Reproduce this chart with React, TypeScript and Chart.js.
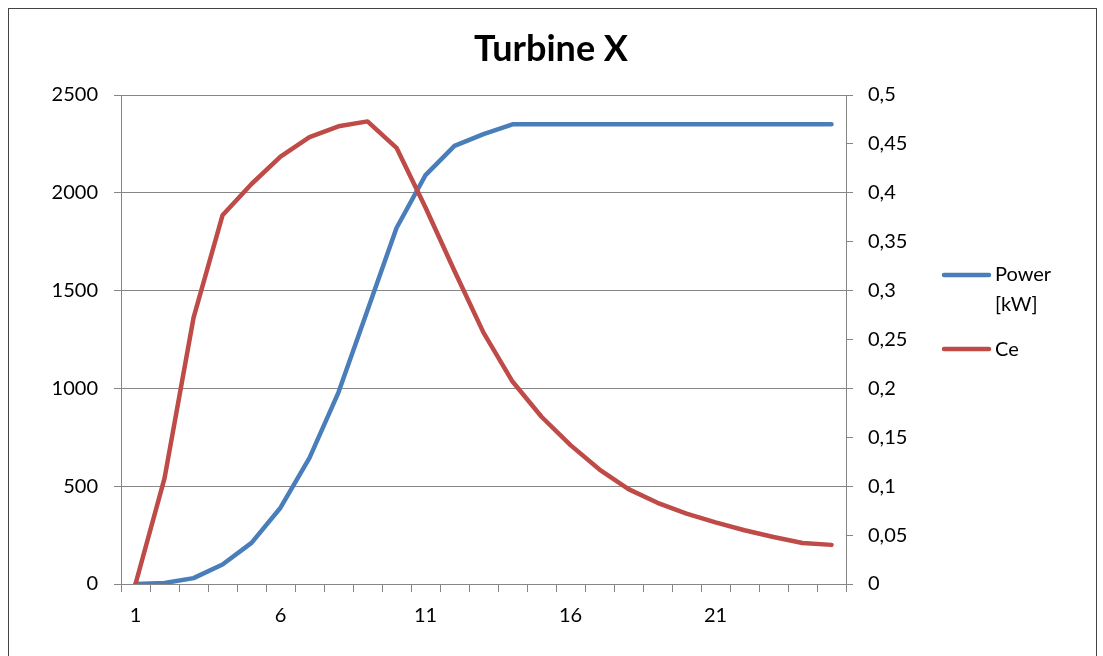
import React, { useEffect, useRef } from "react";
import { Chart, registerables } from "chart.js";

Chart.register(...registerables);

const categories = ["1", "2", "3", "4", "5", "6", "7", "8", "9", "10", "11", "12", "13", "14", "15", "16", "17", "18", "19", "20", "21", "22", "23", "24", "25"];
const powerValues = [0, 5, 30, 100, 210, 390, 645, 980, 1400, 1820, 2090, 2240, 2300, 2350, 2350, 2350, 2350, 2350, 2350, 2350, 2350, 2350, 2350, 2350, 2350];
const ceValues = [0, 0.108, 0.272, 0.377, 0.409, 0.437, 0.457, 0.468, 0.473, 0.446, 0.385, 0.32, 0.257, 0.207, 0.171, 0.142, 0.117, 0.097, 0.083, 0.072, 0.063, 0.055, 0.048, 0.042, 0.04];
const powerLabel = ["Power", "[kW]"];
const ceLabel = "Ce";
const titleText = "Turbine X";

const FONT = "Lato, 'Open Sans', sans-serif";
const BLUE = "#4A7EBB";
const RED = "#BE4B48";
const GRID = "#868686";

const decorPlugin = {
  id: "decor",
  afterDraw(chart: any) {
    const ctx = chart.ctx;
    ctx.save();
    // outer frame
    ctx.strokeStyle = "#444444";
    ctx.lineWidth = 1;
    ctx.strokeRect(8.5, 8.5, 1088, 700);
    // title
    ctx.fillStyle = "#000000";
    ctx.font = "bold 36px " + FONT;
    ctx.textAlign = "center";
    ctx.textBaseline = "alphabetic";
    ctx.fillText(titleText, 551, 61);
    // legend
    ctx.lineCap = "round";
    ctx.lineWidth = 4.5;
    ctx.strokeStyle = BLUE;
    ctx.beginPath();
    ctx.moveTo(944, 275);
    ctx.lineTo(989, 275);
    ctx.stroke();
    ctx.strokeStyle = RED;
    ctx.beginPath();
    ctx.moveTo(944, 349);
    ctx.lineTo(989, 349);
    ctx.stroke();
    ctx.font = "20px " + FONT;
    ctx.textAlign = "left";
    ctx.textBaseline = "middle";
    ctx.fillStyle = "#000000";
    ctx.fillText(powerLabel[0], 995, 275);
    ctx.fillText(powerLabel[1], 995, 305);
    ctx.fillText(ceLabel, 995, 350);
    ctx.restore();
  },
};

export default function App() {
  const ref = useRef<HTMLCanvasElement>(null);
  useEffect(() => {
    if (!ref.current) return;
    const chart = new Chart(ref.current, {
      type: "line",
      data: {
        labels: categories,
        datasets: [
          {
            label: "Power [kW]",
            data: powerValues,
            borderColor: BLUE,
            backgroundColor: BLUE,
            borderWidth: 4.5,
            pointRadius: 0,
            tension: 0,
            borderCapStyle: "round",
            borderJoinStyle: "round",
            yAxisID: "y",
            order: 2,
          },
          {
            label: ceLabel,
            data: ceValues,
            borderColor: RED,
            backgroundColor: RED,
            borderWidth: 4.5,
            pointRadius: 0,
            tension: 0,
            borderCapStyle: "round",
            borderJoinStyle: "round",
            yAxisID: "y1",
            order: 1,
          },
        ],
      },
      options: {
        responsive: false,
        animation: false,
        devicePixelRatio: 1,
        layout: { padding: { top: 95, right: 0, bottom: 0, left: 0 } },
        plugins: {
          legend: { display: false },
          title: { display: false },
          tooltip: { enabled: false },
        },
        scales: {
          x: {
            type: "category",
            offset: true,
            grid: {
              offset: true,
              drawOnChartArea: false,
              drawTicks: true,
              tickLength: 8,
              color: GRID,
              lineWidth: 1,
            },
            border: { display: true, color: GRID, width: 1 },
            ticks: {
              autoSkip: false,
              maxRotation: 0,
              padding: 12,
              color: "#000000",
              font: { family: FONT, size: 20 },
              callback: (_v: any, i: number) => (i % 5 === 0 ? categories[i] : ""),
            },
            afterFit: (s: any) => {
              s.height = 72;
            },
          },
          y: {
            position: "left",
            min: 0,
            max: 2500,
            grid: {
              drawOnChartArea: true,
              drawTicks: true,
              tickLength: 7,
              color: GRID,
              lineWidth: 1,
            },
            border: { display: true, color: GRID, width: 1 },
            ticks: {
              stepSize: 500,
              padding: 16,
              color: "#000000",
              font: { family: FONT, size: 20 },
              callback: (v: any) => String(v),
            },
            afterFit: (s: any) => {
              s.width = 121;
            },
          },
          y1: {
            position: "right",
            min: 0,
            max: 0.5,
            grid: {
              drawOnChartArea: false,
              drawTicks: true,
              tickLength: 7,
              color: GRID,
              lineWidth: 1,
            },
            border: { display: true, color: GRID, width: 1 },
            ticks: {
              stepSize: 0.05,
              padding: 15,
              color: "#000000",
              font: { family: FONT, size: 20 },
              callback: (v: any) => String(parseFloat(Number(v).toFixed(2))).replace(".", ","),
            },
            afterFit: (s: any) => {
              s.width = 257;
            },
          },
        },
      },
      plugins: [decorPlugin],
    });
    return () => chart.destroy();
  }, []);
  return (
    <div style={{ position: "fixed", left: 0, top: 0, width: 1103, height: 656, overflow: "hidden", background: "#ffffff" }}>
      <canvas ref={ref} width={1103} height={656} style={{ display: "block", width: 1103, height: 656 }} />
    </div>
  );
}
